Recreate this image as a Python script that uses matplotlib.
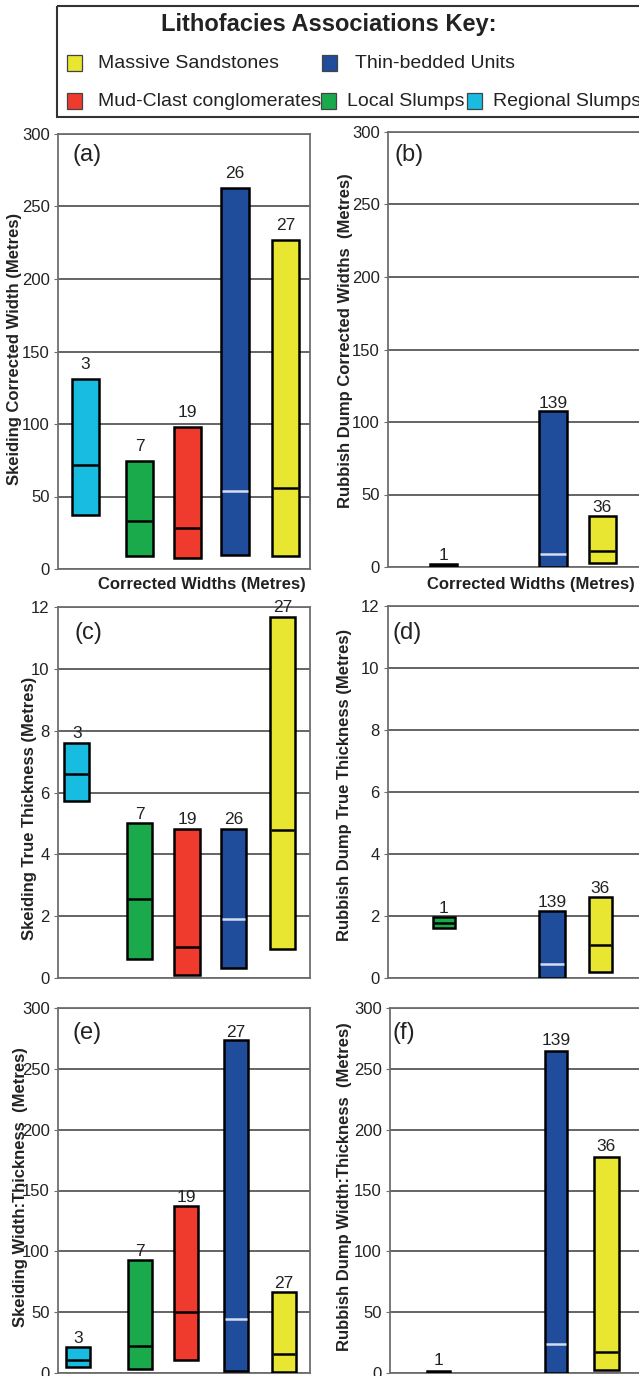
import matplotlib
matplotlib.use("Agg")
import matplotlib.pyplot as plt
from matplotlib.patches import Rectangle

plt.rcParams['font.family'] = ['Liberation Sans', 'DejaVu Sans']

W, H, DPI = 639, 1376, 100

# ---------------- data ----------------
legend_title = "Lithofacies Associations Key:"
facies = ["Regional Slumps", "Local Slumps", "Mud-Clast conglomerates",
          "Thin-bedded Units", "Massive Sandstones"]
facies_colors = ["#17BCE0", "#1AAA4B", "#EE3B2D", "#1F4C9B", "#E8E630"]

skeiding_cats = ["Regional Slumps", "Local Slumps", "Mud-Clast conglomerates",
                 "Thin-bedded Units", "Massive Sandstones"]
rubbish_cats = ["Local Slumps", "Thin-bedded Units", "Massive Sandstones"]

# (a) Skeiding corrected width (m)
sk_width_low = [37, 9, 7.5, 10, 9]
sk_width_med = [72, 33, 28, 54, 56]
sk_width_high = [131, 74.5, 98, 263, 227]
sk_width_n = [3, 7, 19, 26, 27]

# (b) Rubbish Dump corrected width (m)
rd_width_low = [0.3, 0, 3]
rd_width_med = [1.3, 9, 10.8]
rd_width_high = [2.3, 107.5, 35.5]
rd_width_n = [1, 139, 36]

# (c) Skeiding true thickness (m)
sk_thick_low = [5.73, 0.6, 0.1, 0.33, 0.93]
sk_thick_med = [6.59, 2.57, 0.99, 1.91, 4.79]
sk_thick_high = [7.6, 5.0, 4.82, 4.82, 11.69]
sk_thick_n = [3, 7, 19, 26, 27]

# (d) Rubbish Dump true thickness (m)
rd_thick_low = [1.62, 0, 0.19]
rd_thick_med = [1.78, 0.46, 1.06]
rd_thick_high = [1.98, 2.17, 2.62]
rd_thick_n = [1, 139, 36]

# (e) Skeiding width:thickness
sk_wt_low = [4.7, 3, 10.7, 1.9, 0.5]
sk_wt_med = [10.9, 22.2, 50.4, 44.4, 15.3]
sk_wt_high = [21.6, 92.9, 137.5, 273.4, 66.8]
sk_wt_n = [3, 7, 19, 27, 27]

# (f) Rubbish Dump width:thickness
rd_wt_low = [0, 0, 2.5]
rd_wt_med = [1, 23.6, 17.5]
rd_wt_high = [2, 265, 177.5]
rd_wt_n = [1, 139, 36]

# ---------------- figure ----------------
fig = plt.figure(figsize=(W / DPI, H / DPI), dpi=DPI)
fig.patch.set_facecolor("white")

color_of = dict(zip(facies, facies_colors))
ax_width = {}


def make(left, top, right, bottom):
    ax = fig.add_axes([left / W, 1 - bottom / H, (right - left) / W, (bottom - top) / H])
    ax_width[id(ax)] = right - left
    return ax


def ftext(x, y, s, **kw):
    fig.text(x / W, 1 - y / H, s, **kw)


def panel(ax, cats, low, med, high, n, xs, widths, ymax, ystep, label_off):
    ax.set_xlim(0, ax_width[id(ax)])
    ax.set_ylim(0, ymax)
    ax.set_yticks(range(0, ymax + 1, ystep))
    ax.set_xticks([])
    ax.yaxis.grid(True, color="#4a4a4a", lw=1.2, zorder=0)
    ax.set_axisbelow(True)
    for sp in ax.spines.values():
        sp.set_color("#6e6e6e")
        sp.set_linewidth(1.3)
    ax.tick_params(axis="y", length=3, color="#6e6e6e", labelsize=12,
                   labelcolor="#222222", pad=3)
    for c, lo, md, hi, k, x, w in zip(cats, low, med, high, n, xs, widths):
        ax.bar(x, hi - lo, bottom=lo, width=w, color=color_of[c],
               edgecolor="black", linewidth=1.8, zorder=3)
        mcol = "#d5def0" if c == "Thin-bedded Units" else "black"
        ax.hlines(md, x - w / 2 + 1, x + w / 2 - 1, color=mcol, lw=1.8, zorder=4)
        ax.annotate(str(k), (x, hi), xytext=(0, label_off), textcoords="offset points",
                    ha="center", va="baseline", fontsize=12.5, color="#222222",
                    annotation_clip=False, zorder=5)


ax_a = make(58, 134, 310, 569)
ax_b = make(388, 132, 645, 567)
ax_c = make(58, 607, 310, 978)
ax_d = make(388, 606, 645, 978)
ax_e = make(58, 1008, 310, 1373)
ax_f = make(390, 1008, 645, 1373)

panel(ax_a, skeiding_cats, sk_width_low, sk_width_med, sk_width_high, sk_width_n,
      [27.5, 81.5, 129.5, 177, 227.5], [27, 27, 27, 28, 27], 300, 50, 7)
panel(ax_b, rubbish_cats, rd_width_low, rd_width_med, rd_width_high, rd_width_n,
      [55.5, 165, 214], [27, 28, 27], 300, 50, 2.5)
panel(ax_c, skeiding_cats, sk_thick_low, sk_thick_med, sk_thick_high, sk_thick_n,
      [18.7, 81.8, 129, 175.3, 224.3], [25, 25, 26, 25, 25], 12, 2, 3.5)
panel(ax_d, rubbish_cats, rd_thick_low, rd_thick_med, rd_thick_high, rd_thick_n,
      [55.5, 164, 212], [22, 26, 23], 12, 2, 2.5)
panel(ax_e, skeiding_cats, sk_wt_low, sk_wt_med, sk_wt_high, sk_wt_n,
      [20, 81.7, 128, 178, 226], [24, 24, 24, 24, 24], 300, 50, 2.5)
panel(ax_f, rubbish_cats, rd_wt_low, rd_wt_med, rd_wt_high, rd_wt_n,
      [48.7, 166, 216], [23, 22, 25], 300, 50, 4)

# y labels
ylab = dict(fontsize=12, fontweight="bold", color="#222222")
ax_a.set_ylabel("Skeiding Corrected Width (Metres)", **ylab)
ax_a.yaxis.set_label_coords(-0.143, 0.506)
ax_b.set_ylabel("Rubbish Dump Corrected Widths  (Metres)", **ylab)
ax_b.yaxis.set_label_coords(-0.136, 0.52)
ax_c.set_ylabel("Skeiding True Thickness (Metres)", **ylab)
ax_c.yaxis.set_label_coords(-0.083, 0.458)
ax_d.set_ylabel("Rubbish Dump True Thickness (Metres)", **ylab)
ax_d.yaxis.set_label_coords(-0.14, 0.52)
ax_e.set_ylabel("Skeiding Width:Thickness  (Metres)", **ylab)
ax_e.yaxis.set_label_coords(-0.119, 0.51)
ax_f.set_ylabel("Rubbish Dump Width:Thickness  (Metres)", **ylab)
ax_f.yaxis.set_label_coords(-0.149, 0.51)

# x labels
ftext(202, 584, "Corrected Widths (Metres)", ha="center", va="center",
      fontsize=12, fontweight="bold", color="#222222")
ftext(531, 584, "Corrected Widths (Metres)", ha="center", va="center",
      fontsize=12, fontweight="bold", color="#222222")

# panel letters
for (x, y, s) in [(73, 155, "(a)"), (394, 155, "(b)"), (75, 633, "(c)"),
                  (392, 633, "(d)"), (73, 1033, "(e)"), (393, 1033, "(f)")]:
    ftext(x, y, s, ha="left", va="center", fontsize=17, color="#222222")

# ---------------- legend key ----------------
lax = fig.add_axes([0, 1 - 125 / H, 1, 125 / H])
lax.set_xlim(0, W)
lax.set_ylim(125, 0)
lax.axis("off")
lax.add_patch(Rectangle((57, 6), 620, 111, fill=False, edgecolor="#333333", lw=1.5,
                        clip_on=False))
lax.text(329, 25, legend_title, ha="center", va="center", fontsize=17,
         fontweight="bold", color="#222222")
key_layout = {
    "Massive Sandstones": (67, 63, 98),
    "Thin-bedded Units": (322, 63, 355),
    "Mud-Clast conglomerates": (67, 101, 98),
    "Local Slumps": (321, 101, 347),
    "Regional Slumps": (467, 101, 493),
}
for name, col in zip(facies, facies_colors):
    sx, sy, tx = key_layout[name]
    lax.add_patch(Rectangle((sx, sy - 8), 15, 16, facecolor=col,
                            edgecolor="#444444", lw=0.9))
    lax.text(tx, sy, name, ha="left", va="center", fontsize=14, color="#222222")

fig.savefig("out.png", dpi=DPI, facecolor="white")
